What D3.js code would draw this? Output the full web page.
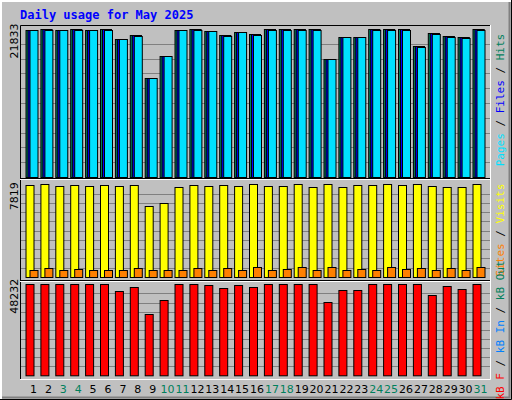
<!DOCTYPE html>
<html><head><meta charset="utf-8">
<script src="https://cdn.jsdelivr.net/npm/d3@7"></script>
<style>body{margin:0;background:#fff}svg{display:block}</style>
</head><body>
<script>
const days = d3.range(1, 32);
const weekend = [3,4,10,11,17,18,24,25,31];
const hits = [21700,21833,21700,21833,21700,21833,20350,20950,14550,17800,21700,21833,21550,20950,21400,21100,21833,21833,21833,21833,17400,20650,20650,21833,21833,21833,19300,21250,20800,20650,21833];
const files = [21700,21833,21700,21833,21700,21833,20350,20950,14550,17800,21700,21833,21550,20950,21400,21100,21833,21833,21833,21833,17400,20650,20650,21833,21833,21833,19300,21250,20800,20650,21833];
const pages = [21700,21700,21700,21700,21700,21700,20350,20800,14550,17800,21700,21700,21550,20800,21400,20950,21700,21700,21700,21700,17400,20650,20650,21700,21700,21700,19150,21100,20650,20500,21700];
const visits = [7763,7819,7650,7735,7650,7735,7650,7735,5991,6215,7566,7735,7650,7735,7650,7819,7650,7650,7819,7566,7819,7566,7735,7735,7819,7735,7819,7650,7566,7566,7819];
const sites = [590,760,590,675,590,590,590,760,590,590,590,760,590,760,590,845,590,675,845,590,845,590,675,590,845,675,760,590,760,590,845];
const kbF = [48232,48232,48232,48232,48232,48232,44700,46819,32508,39929,48232,48232,47702,46289,47702,46819,48232,48232,48232,48232,38692,45229,45229,48232,48232,48232,48232,42579,47349,45759,48232];

const W=512,H=400;
const svg=d3.select("body").append("svg").attr("width",W).attr("height",H);
svg.append("rect").attr("width",W).attr("height",H).attr("fill","#c0c0c0");
// outer 3D frame
svg.append("path").attr("d","M1,399V1H511").attr("stroke","#fff").attr("stroke-width",2).attr("fill","none");
svg.append("path").attr("d","M0,399.5H511.5V0").attr("stroke","#000").attr("fill","none");
svg.append("path").attr("d","M2,397.5H509.5V2").attr("stroke","#808080").attr("stroke-width",2).attr("fill","none");

const L=20,R=490,T=25,B=379;
const x=d3.scaleLinear().domain([1,31]).range([25.5,472.5]);
const mono="'DejaVu Sans Mono',monospace";

svg.append("text").attr("x",20).attr("y",19).attr("font-family",mono).attr("font-weight","bold")
  .attr("font-size",12).attr("fill","#0000ff").text("Daily usage for May 2025");

const panels=[{y0:25,y1:178,top:29,bot:177,max:21833,lab:"21833"},
              {y0:179,y1:280,top:184.3,bot:277,max:7819,lab:"7819"},
              {y0:281,y1:379,top:284.3,bot:375.3,max:48232,lab:"48232"}];
panels.forEach(p=>{
  p.s=d3.scaleLinear().domain([0,p.max]).range([p.bot,p.top]);
  const n=10;
  for(let i=1;i<n;i++){
    const yy=Math.round(p.bot-(p.bot-p.top)*i/n)+0.5;
    svg.append("line").attr("x1",L).attr("x2",R).attr("y1",yy).attr("y2",yy).attr("stroke","#808080");
  }
  svg.append("text").attr("transform",`translate(18,${p.top+12}) rotate(-90)`).attr("text-anchor","middle")
    .attr("font-family","DejaVu Sans").attr("font-size",11).attr("fill","#000").text(p.lab);
});
// panel frames
svg.append("path").attr("d",`M${L+.5},${B}V${T+.5}H${R}`).attr("stroke","#000").attr("fill","none");
svg.append("path").attr("d",`M${L},${B+.5}H${R+.5}V${T}`).attr("stroke","#fff").attr("fill","none");
[178.5,280.5].forEach(yy=>{
  svg.append("line").attr("x1",L).attr("x2",R).attr("y1",yy).attr("y2",yy).attr("stroke","#000");
  svg.append("line").attr("x1",L).attr("x2",R).attr("y1",yy+1).attr("y2",yy+1).attr("stroke","#fff");
});

function bars(data,p,dx,w,fill){
  svg.append("g").selectAll("rect").data(data).join("rect")
   .attr("x",(d,i)=>x(days[i])+dx+.5).attr("width",w)
   .attr("y",d=>Math.round(p.s(d))+.5).attr("height",d=>p.bot-Math.round(p.s(d)))
   .attr("fill",fill).attr("stroke","#000");
}
bars(hits,panels[0],0,11,"#00805c");
bars(files,panels[0],2,9,"#0000ff");
bars(pages,panels[0],4,8,"#00e0ff");
bars(visits,panels[1],0,8,"#ffff00");
bars(sites,panels[1],4,8,"#ff8000");
bars(kbF,panels[2],0,8,"#ff0000");

svg.append("g").selectAll("text").data(days).join("text")
  .attr("x",d=>x(d)+8).attr("y",393).attr("text-anchor","middle")
  .attr("font-family","DejaVu Sans").attr("font-size",11)
  .attr("fill",d=>weekend.includes(d)?"#00805c":"#000").text(d=>d);

function legend(cy,parts){
  const t=svg.append("text").attr("transform",`translate(504,${cy}) rotate(-90)`).attr("text-anchor","middle")
   .attr("font-family",mono).attr("font-size",11);
  parts.forEach(([s,c])=>t.append("tspan").attr("fill",c).text(s));
}
legend(100,[["Pages","#00e0ff"],[" / ","#000"],["Files","#0000ff"],[" / ","#000"],["Hits","#00805c"]]);
legend(230,[["Sites","#ff8000"],[" / ","#000"],["Visits","#ffff00"]]);
legend(330,[["kB F","#ff0000"],[" / ","#000"],["kB In","#0080ff"],[" / ","#000"],["kB Out","#00805c"]]);
</script>
</body></html>
